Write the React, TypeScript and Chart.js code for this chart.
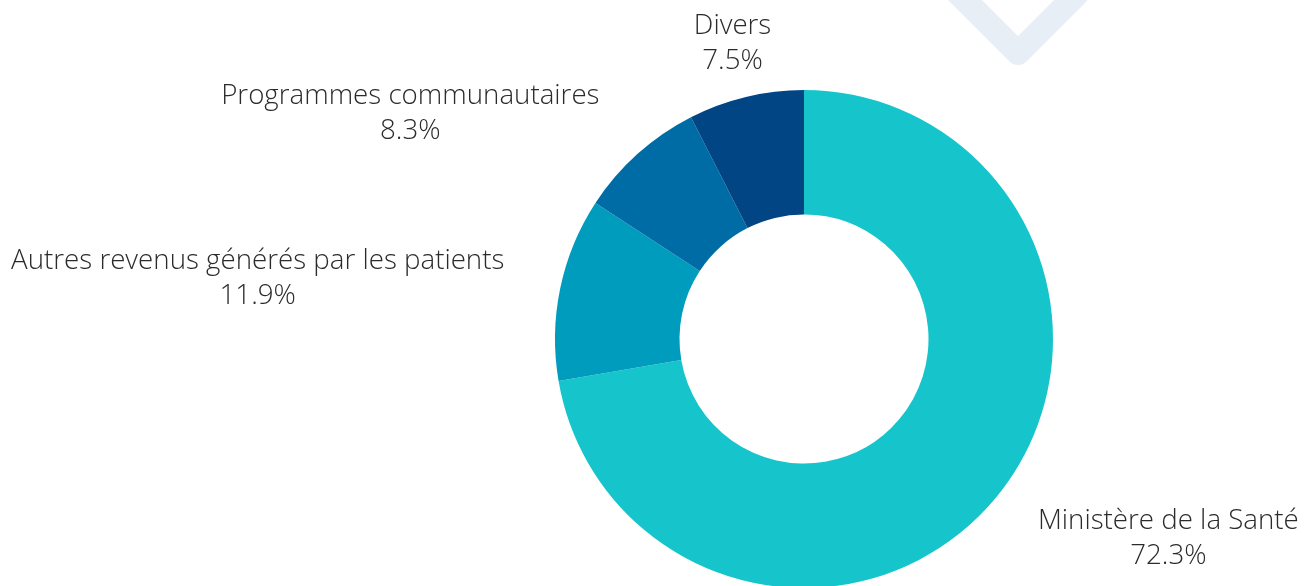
import React, { useEffect, useRef } from "react";
import { Chart, registerables } from "chart.js";

Chart.register(...registerables);

const categories: string[] = [
  "Ministère de la Santé",
  "Autres revenus générés par les patients",
  "Programmes communautaires",
  "Divers",
];
const values: number[] = [72.3, 11.9, 8.3, 7.5];
const colors: string[] = ["#16C5CC", "#009CBD", "#006CA5", "#024584"];

const FONT_SIZE = 27.7;
const FONT = `300 ${FONT_SIZE}px 'Open Sans'`;
const LINE = 35;
const LABEL_DIST = 57;

const watermarkPlugin = {
  id: "watermark",
  beforeDraw(chart: any) {
    const ctx = chart.ctx;
    ctx.save();
    ctx.strokeStyle = "#E7EEF5";
    ctx.lineWidth = 24;
    ctx.lineCap = "round";
    ctx.lineJoin = "round";
    ctx.beginPath();
    ctx.moveTo(895, -70);
    ctx.lineTo(1018, 53);
    ctx.lineTo(1077, -6);
    ctx.stroke();
    ctx.restore();
  },
};

const labelPlugin = {
  id: "outerLabels",
  afterDraw(chart: any) {
    const ctx = chart.ctx;
    const meta = chart.getDatasetMeta(0);
    ctx.save();
    ctx.font = FONT;
    ctx.fillStyle = "#2b2b2b";
    ctx.textBaseline = "alphabetic";
    ctx.textAlign = "center";
    const capH = FONT_SIZE * 0.714;
    meta.data.forEach((arc: any, i: number) => {
      const { x, y, startAngle, endAngle, outerRadius } = arc.getProps(
        ["x", "y", "startAngle", "endAngle", "outerRadius"],
        true
      );
      const mid = (startAngle + endAngle) / 2;
      const c = Math.cos(mid);
      const s = Math.sin(mid);
      const r = outerRadius + LABEL_DIST;
      const dy = r * s;
      const cy = y + dy;
      const l1 = categories[i];
      const l2 = values[i].toFixed(1) + "%";
      const w = Math.max(ctx.measureText(l1).width, ctx.measureText(l2).width);
      let cx: number;
      if (Math.abs(c) < 0.3) {
        cx = x + r * c;
      } else {
        const dx = Math.sqrt(Math.max(0, r * r - dy * dy));
        cx = c < 0 ? x - dx - w / 2 : x + dx + w / 2;
      }
      const b1 = cy - LINE / 2 + capH / 2;
      ctx.fillText(l1, cx, b1);
      ctx.fillText(l2, cx, b1 + LINE);
    });
    ctx.restore();
  },
};

export default function App() {
  const ref = useRef<HTMLCanvasElement | null>(null);
  useEffect(() => {
    if (!ref.current) return;
    const chart = new Chart(ref.current, {
      type: "doughnut",
      data: {
        labels: categories,
        datasets: [
          {
            data: values,
            backgroundColor: colors,
            borderWidth: 0,
            hoverOffset: 0,
          },
        ],
      },
      options: {
        responsive: false,
        animation: false,
        cutout: "50%",
        layout: { padding: { left: 555, right: 252, top: 90, bottom: 12 } },
        plugins: {
          legend: { display: false },
          tooltip: { enabled: false },
        },
      },
      plugins: [watermarkPlugin, labelPlugin],
    });
    return () => chart.destroy();
  }, []);
  return (
    <div
      style={{
        position: "absolute",
        left: 0,
        top: 0,
        width: 1305,
        height: 586,
        overflow: "hidden",
        background: "#ffffff",
      }}
    >
      <canvas ref={ref} width={1305} height={600} style={{ display: "block" }} />
    </div>
  );
}
